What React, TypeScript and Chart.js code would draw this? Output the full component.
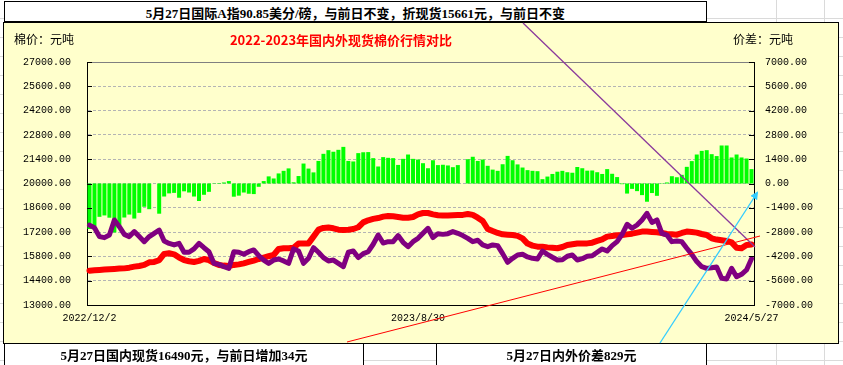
import React, { useEffect, useRef } from "react";
import { Chart, registerables } from "chart.js";

Chart.register(...registerables);

// 国内现货 (red, left axis, 元/吨)
const domesticSpot = [
  14980, 15000, 15020, 15040, 15060, 15080, 15100, 15110, 15150, 15210,
  15250, 15310, 15460, 15480, 15580, 15940, 15980, 15920, 15730, 15590,
  15520, 15480, 15540, 15650, 15590, 15420, 15310, 15270, 15250, 15310,
  15340, 15400, 15480, 15560, 15650, 15730, 15810, 15880, 16230, 16270,
  16270, 16300, 16540, 16550, 16550, 16940, 17340, 17440, 17460, 17420,
  17340, 17320, 17340, 17380, 17480, 17760, 17880, 17960, 18010, 18090,
  18130, 18110, 18070, 18030, 18030, 18070, 18220, 18300, 18300, 18220,
  18170, 18150, 18150, 18170, 18190, 18190, 18240, 18190, 18030, 17840,
  17380, 17260, 17150, 17070, 17050, 17030, 16980, 16840, 16540, 16420,
  16360, 16360, 16320, 16300, 16270, 16340, 16460, 16500, 16540, 16550,
  16550, 16590, 16690, 16780, 16940, 16980, 17020, 17030, 17070, 17110,
  17170, 17230, 17230, 17210, 17190, 17150, 17090, 17070, 17050, 17150,
  17230, 17210, 17170, 17090, 17030, 16840, 16770, 16730, 16690, 16610,
  16300, 16270, 16460, 16490,
];

// 国际A指折现货 (purple, left axis, 元/吨)
const intlSpot = [
  17600, 17450, 16940, 16880, 17030, 17900, 17510, 17070, 16940, 17230,
  16940, 16650, 16940, 17130, 17320, 16690, 16550, 16460, 16550, 16040,
  16040, 16230, 16550, 16300, 16070, 15400, 15340, 15210, 15110, 16070,
  16040, 15920, 16070, 16170, 15840, 15590, 15400, 15590, 15650, 15540,
  15400, 16230, 16110, 15400, 15690, 16300, 16040, 15730, 15540, 15590,
  15400, 15210, 16040, 16110, 15730, 15960, 16070, 16500, 17030, 16570,
  16650, 16650, 17000, 16610, 16360, 16650, 16840, 17130, 17420, 16880,
  17110, 17070, 17110, 17230, 17130, 17000, 16840, 16650, 16730, 16460,
  16360, 16460, 16420, 15960, 15460, 15690, 15880, 15920, 15770, 15690,
  15650, 16110, 15920, 15750, 15590, 15610, 15810, 15880, 15590, 15670,
  15810, 15840, 16040, 16230, 16110, 16420, 16650, 17070, 17650, 17420,
  17610, 17900, 18280, 17760, 17900, 17130, 17030, 16650, 16690, 16650,
  16270, 15920, 15500, 15210, 15110, 15150, 15190, 14540, 14500, 15110,
  14630, 14770, 15020, 15661,
];

// 内外价差 (green bars, right axis, 元/吨)
const priceGap = [
  -2620, -2450, -1920, -1840, -1970, -2820, -2410, -1960, -1790, -2020,
  -1690, -1340, -1480, null, -1740, -750, -570, -540, -820, -450,
  -520, -750, -1010, -650, -480, 20, -30, 60, 140, -760,
  -700, -520, -590, -610, -190, 140, 410, 290, 580, 730,
  870, 70, 430, 1150, 860, 640, 1300, 1710, 1920, 1830,
  1940, 2110, 1300, 1270, 1750, 1800, 1810, 1460, 980, 1520,
  1480, 1460, 1070, 1420, 1670, 1420, 1380, 1170, 880, 1340,
  1060, 1080, 1040, 940, 1060, null, 1400, 1540, 1300, 1380,
  1020, 800, 730, 1110, 1590, 1340, 1100, 920, 770, 730,
  710, 250, 400, 550, 680, 730, 650, 620, 950, 880,
  740, 750, 650, 550, 830, 560, 370, -40, -580, -310,
  -440, -670, -1050, -550, -710, 20, 60, 420, 360, 500,
  960, 1290, 1670, 1880, 1920, 1690, 1580, 2190, 2190, 1500,
  1670, 1500, 1440, 829,
];

const xTickLabels = ["2022/12/2", "2023/8/30", "2024/5/27"];
const xTickIndex = [0, 66, 133];

const categories = domesticSpot.map((_, i) => {
  const k = xTickIndex.indexOf(i);
  return k >= 0 ? xTickLabels[k] : "";
});

const leftMin = 13000;
const leftMax = 27000;
const rightMin = -7000;
const rightMax = 7000;
const tickStep = 1400;

const headerText = "5月27日国际A指90.85美分/磅，与前日不变，折现货15661元，与前日不变";
const footerLeftText = "5月27日国内现货16490元，与前日增加34元";
const footerRightText = "5月27日内外价差829元";
const chartTitle = "2022-2023年国内外现货棉价行情对比";
const leftUnit = "棉价：元吨";
const rightUnit = "价差：元吨";

const tickFont = { family: "'Liberation Mono', 'DejaVu Sans Mono', monospace", size: 10 };

const insideTicks = {
  id: "insideTicks",
  afterDraw(chart: any) {
    const { ctx, chartArea, scales } = chart;
    ctx.save();
    ctx.strokeStyle = "#000";
    ctx.lineWidth = 1;
    ctx.beginPath();
    scales.y.ticks.forEach((t: any) => {
      const y = Math.round(scales.y.getPixelForValue(t.value)) + 0.5;
      ctx.moveTo(chartArea.left, y);
      ctx.lineTo(chartArea.left + 5, y);
    });
    scales.y1.ticks.forEach((t: any) => {
      const y = Math.round(scales.y1.getPixelForValue(t.value)) + 0.5;
      ctx.moveTo(chartArea.right - 5, y);
      ctx.lineTo(chartArea.right, y);
    });
    ctx.stroke();
    ctx.restore();
  },
};

export default function App() {
  const canvasRef = useRef<HTMLCanvasElement | null>(null);

  useEffect(() => {
    if (!canvasRef.current) return;
    const chart = new Chart(canvasRef.current, {
      type: "bar",
      data: {
        labels: categories,
        datasets: [
          {
            type: "line",
            label: "国际",
            data: intlSpot,
            yAxisID: "y",
            borderColor: "#800080",
            borderWidth: 5,
            pointRadius: 0,
            tension: 0,
            borderJoinStyle: "round",
            borderCapStyle: "round",
            order: 0,
          } as any,
          {
            type: "line",
            label: "国内",
            data: domesticSpot,
            yAxisID: "y",
            borderColor: "#FF0000",
            borderWidth: 6,
            pointRadius: 0,
            tension: 0,
            borderJoinStyle: "round",
            borderCapStyle: "round",
            order: 1,
          } as any,
          {
            type: "bar",
            label: "价差",
            data: priceGap,
            yAxisID: "y1",
            backgroundColor: "#00FF00",
            borderWidth: 0,
            barPercentage: 1,
            categoryPercentage: 0.8,
            order: 2,
          } as any,
        ],
      },
      options: {
        responsive: false,
        animation: false,
        devicePixelRatio: 1,
        layout: { padding: { top: 40, left: 0, right: 0, bottom: 0 } },
        plugins: {
          legend: { display: false },
          tooltip: { enabled: false },
          title: { display: false },
        },
        scales: {
          x: {
            grid: { display: false, drawTicks: false },
            border: { display: true, color: "#000", width: 1 },
            ticks: {
              autoSkip: false,
              maxRotation: 0,
              minRotation: 0,
              padding: 7,
              color: "#000",
              font: tickFont,
            },
            afterFit: (s: any) => {
              s.height = 39;
            },
          },
          y: {
            position: "left",
            min: leftMin,
            max: leftMax,
            ticks: {
              stepSize: tickStep,
              padding: 16,
              color: "#000",
              font: tickFont,
              callback: (v: any) => Number(v).toFixed(2),
            },
            grid: {
              drawTicks: false,
              lineWidth: 1,
              color: (ctx: any) =>
                ctx.tick && ctx.tick.value === leftMin ? "rgba(0,0,0,0)" : ctx.tick && ctx.tick.value === leftMax ? "#808080" : "#B4B4B4",
            },
            border: {
              display: true,
              color: "#000",
              width: 1,
              dash: (ctx: any) => (ctx.tick && ctx.tick.value === leftMax ? [] : [3, 2]),
            },
            afterFit: (s: any) => {
              s.width = 84;
            },
          },
          y1: {
            position: "right",
            min: rightMin,
            max: rightMax,
            ticks: {
              stepSize: tickStep,
              padding: 11,
              color: "#000",
              font: tickFont,
              callback: (v: any) => Number(v).toFixed(2),
            },
            grid: { display: false, drawTicks: false },
            border: { display: true, color: "#000", width: 1 },
            afterFit: (s: any) => {
              s.width = 85;
            },
          },
        },
      } as any,
      plugins: [insideTicks],
    });
    return () => chart.destroy();
  }, []);

  const boxText: React.CSSProperties = {
    position: "absolute",
    left: 0,
    right: 0,
    top: 4,
    lineHeight: "16px",
    textAlign: "center",
    fontWeight: "bold",
    fontSize: 13,
    fontFamily: "'Liberation Serif', 'Noto Sans CJK SC', serif",
    color: "#000",
    whiteSpace: "nowrap",
  };

  return (
    <div
      style={{
        position: "fixed",
        left: 0,
        top: 0,
        width: 843,
        height: 365,
        overflow: "hidden",
        background: "#fff",
        backgroundImage:
          "repeating-linear-gradient(to bottom, transparent 0px, transparent 18px, #DADADA 18px, #DADADA 19px), linear-gradient(to right, transparent 776px, #DADADA 776px, #DADADA 777px, transparent 777px, transparent 824px, #DADADA 824px, #DADADA 825px, transparent 825px)",
      }}
    >
      <div
        style={{
          position: "absolute",
          left: 4,
          top: 1,
          width: 703,
          height: 21,
          boxSizing: "border-box",
          border: "1px solid #000",
          background: "#fff",
        }}
      >
        <div style={boxText}>{headerText}</div>
      </div>
      <div
        style={{
          position: "absolute",
          left: 3,
          top: 22,
          width: 836,
          height: 322,
          boxSizing: "border-box",
          border: "1px solid #000",
          background: "#FFFFCC",
        }}
      />
      <canvas
        ref={canvasRef}
        width={836}
        height={322}
        style={{ position: "absolute", left: 3, top: 22, width: 836, height: 322 }}
      />
      <div
        style={{
          position: "absolute",
          left: 14,
          top: 32,
          fontSize: 12,
          lineHeight: "14px",
          fontFamily: "'Noto Sans CJK SC', sans-serif",
          color: "#000",
          whiteSpace: "nowrap",
        }}
      >
        {leftUnit}
      </div>
      <div
        style={{
          position: "absolute",
          left: 0,
          width: 682,
          top: 32,
          fontSize: 13,
          lineHeight: "15px",
          fontWeight: "bold",
          textAlign: "center",
          fontFamily: "'Noto Sans CJK SC', sans-serif",
          color: "#FF0000",
          whiteSpace: "nowrap",
        }}
      >
        {chartTitle}
      </div>
      <div
        style={{
          position: "absolute",
          left: 733,
          top: 32,
          fontSize: 12,
          lineHeight: "14px",
          fontFamily: "'Noto Sans CJK SC', sans-serif",
          color: "#000",
          whiteSpace: "nowrap",
        }}
      >
        {rightUnit}
      </div>
      <div
        style={{
          position: "absolute",
          left: 4,
          top: 343,
          width: 360,
          height: 30,
          boxSizing: "border-box",
          border: "1px solid #000",
          background: "#fff",
        }}
      >
        <div style={boxText}>{footerLeftText}</div>
      </div>
      <div
        style={{
          position: "absolute",
          left: 436,
          top: 343,
          width: 271,
          height: 30,
          boxSizing: "border-box",
          border: "1px solid #000",
          background: "#fff",
        }}
      >
        <div style={boxText}>{footerRightText}</div>
      </div>
      <svg
        width={843}
        height={365}
        style={{ position: "absolute", left: 0, top: 0, pointerEvents: "none" }}
      >
        <defs>
          <marker id="arrowHead" markerWidth="8" markerHeight="8" refX="6" refY="4" orient="auto" markerUnits="userSpaceOnUse">
            <path d="M0,0 L8,4 L0,8 Z" fill="#33CCFF" />
          </marker>
        </defs>
        <line x1={523} y1={23} x2={755} y2={247} stroke="#8B3A9B" strokeWidth={1.3} />
        <line x1={347} y1={342} x2={760} y2={236} stroke="#FF0000" strokeWidth={1} />
        <line x1={660} y1={343} x2={757} y2={193} stroke="#33CCFF" strokeWidth={1.3} markerEnd="url(#arrowHead)" />
      </svg>
    </div>
  );
}
